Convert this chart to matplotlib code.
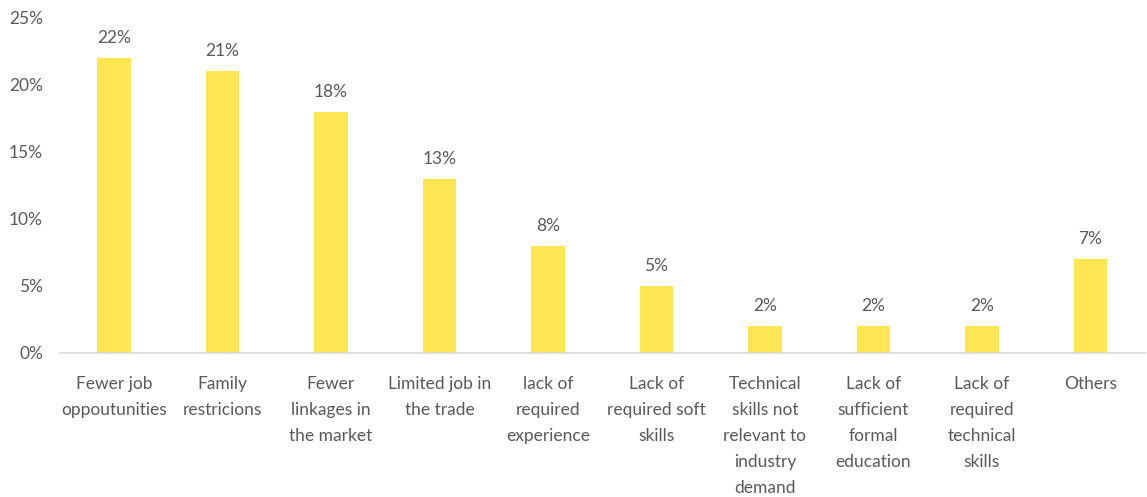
import matplotlib
matplotlib.use("Agg")
import matplotlib.pyplot as plt
from matplotlib.ticker import FuncFormatter

plt.rcParams['font.family'] = ['Lato', 'DejaVu Sans']

categories = [
    "Fewer job\noppoutunities",
    "Family\nrestricions",
    "Fewer\nlinkages in\nthe market",
    "Limited job in\nthe trade",
    "lack of\nrequired\nexperience",
    "Lack of\nrequired soft\nskills",
    "Technical\nskills not\nrelevant to\nindustry\ndemand",
    "Lack of\nsufficient\nformal\neducation",
    "Lack of\nrequired\ntechnical\nskills",
    "Others",
]
shares = [22, 21, 18, 13, 8, 5, 2, 2, 2, 7]  # percent

grey = "#595959"
bar_color = "#FFE552"

fig = plt.figure(figsize=(11.47, 4.97), dpi=100)
ax = fig.add_axes([0.052, 0.29, 0.946, 0.674])

x = range(len(categories))
bars = ax.bar(x, [s / 100 for s in shares], width=0.31, color=bar_color)

# percentage labels above each bar
for bar, s in zip(bars, shares):
    ax.text(bar.get_x() + bar.get_width() / 2, bar.get_height() + 0.009,
            f"{s}%", ha="center", va="bottom", fontsize=12.5, color=grey)

ax.set_xlim(-0.5, len(categories) - 0.5)
ax.set_ylim(0, 0.25)
ax.set_yticks([0, 0.05, 0.10, 0.15, 0.20, 0.25])
ax.yaxis.set_major_formatter(FuncFormatter(lambda v, _: f"{v * 100:.0f}%"))
ax.set_xticks(list(x))
ax.set_xticklabels(categories, fontsize=12.5, color=grey, linespacing=1.76, va="top")

for side in ("top", "right", "left"):
    ax.spines[side].set_visible(False)
ax.spines["bottom"].set_color("#D9D9D9")
ax.spines["bottom"].set_linewidth(1.2)
ax.tick_params(axis="both", length=0, colors=grey, labelsize=12.5)
ax.tick_params(axis="x", pad=17)
ax.tick_params(axis="y", pad=12)

fig.savefig("out.png", dpi=100)
